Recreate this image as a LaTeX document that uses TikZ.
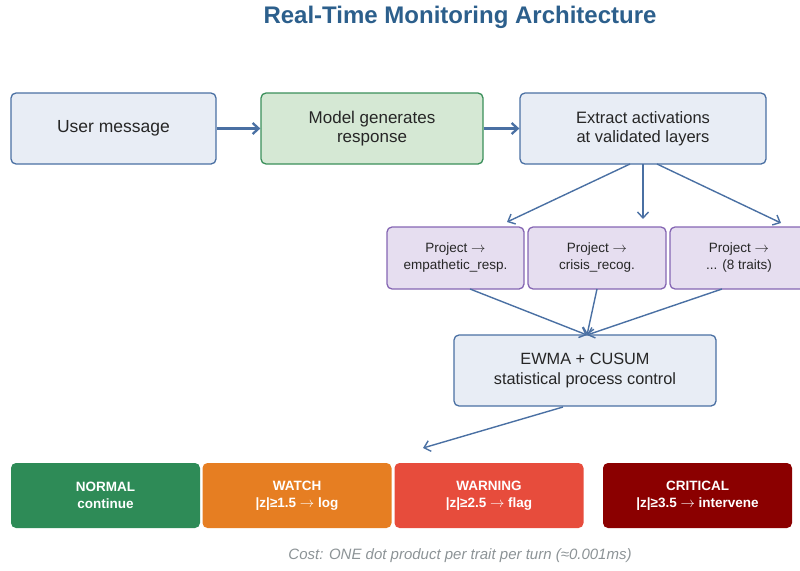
\documentclass[tikz,border=0pt]{standalone}
\usepackage{fontspec}
\setmainfont{Liberation Sans}
\usetikzlibrary{arrows.meta}
\definecolor{stepfill}{HTML}{E8EDF5}
\definecolor{stepline}{HTML}{4A70A3}
\definecolor{genfill}{HTML}{D5E8D4}
\definecolor{genline}{HTML}{3A8F5A}
\definecolor{projfill}{HTML}{E6DEF0}
\definecolor{projline}{HTML}{8566B3}
\definecolor{titleblue}{HTML}{2C5F8C}
\definecolor{lvnormal}{HTML}{2E8B57}
\definecolor{lvwatch}{HTML}{E67E22}
\definecolor{lvwarning}{HTML}{E74C3C}
\definecolor{lvcritical}{HTML}{8B0000}
\definecolor{captiongray}{HTML}{8C9396}
\newcommand{\rarr}{\(\rightarrow\)}
\tikzset{
  box/.style={draw, line width=1.3pt, rounded corners=5pt, align=center, inner sep=0pt},
  stepbox/.style={box, draw=stepline, fill=stepfill, text=black!85},
  genbox/.style={box, draw=genline, fill=genfill, text=black!85},
  projbox/.style={box, draw=projline, fill=projfill, text=black!85, font=\fontsize{13.5}{17}\selectfont},
  levelbox/.style={rounded corners=5pt, align=center, inner sep=0pt, text=white,
    font=\bfseries\fontsize{13.5}{17}\selectfont, minimum width=189pt, minimum height=65pt},
  mainarrow/.style={-{Straight Barb[length=6pt,width=11pt]}, line width=2.3pt, draw=stepline},
  thinarrow/.style={-{Straight Barb[length=6pt,width=11pt]}, line width=1.4pt, draw=stepline},
}
\begin{document}
\begin{tikzpicture}[x=1pt,y=-1pt]
\useasboundingbox (0,0) rectangle (800,570);

\node[font=\bfseries\fontsize{24}{28}\selectfont, text=titleblue] (title) at (460,17) {Real-Time Monitoring Architecture};

% top row
\node[stepbox, minimum width=205pt, minimum height=71pt, font=\fontsize{17.5}{20}\selectfont] (user) at (113.5,128.5) {User message};
\node[genbox, minimum width=222pt, minimum height=71pt, font=\fontsize{17}{19.5}\selectfont] (model) at (372,128.5) {Model generates\\response};
\node[stepbox, minimum width=246pt, minimum height=71pt, font=\fontsize{16.5}{19.5}\selectfont] (extract) at (643,128.5) {Extract activations\\at validated layers};

\draw[mainarrow] (user.east) -- (model.west);
\draw[mainarrow] (model.east) -- (extract.west);

% per-trait projections
\node[projbox, minimum width=137pt, minimum height=62pt] (p1) at (455.5,258) {Project \rarr\\empathetic\_resp.};
\node[projbox, minimum width=138pt, minimum height=62pt] (p2) at (597,258) {Project \rarr\\crisis\_recog.};
\node[projbox, minimum width=138pt, minimum height=62pt] (p3) at (739,258) {Project \rarr\\... (8 traits)};

\coordinate (e1) at (630,164);
\coordinate (e2) at (643,164);
\coordinate (e3) at (657,164);
\coordinate (t1) at (507,222);
\coordinate (t2) at (643,219);
\coordinate (t3) at (781,223);
\draw[thinarrow] (e1) -- (t1);
\draw[thinarrow] (e2) -- (t2);
\draw[thinarrow] (e3) -- (t3);

% statistical process control
\node[stepbox, minimum width=262pt, minimum height=71pt, font=\fontsize{16.3}{19.5}\selectfont] (spc) at (585,370.5) {EWMA + CUSUM\\statistical process control};

\coordinate (s1) at (470,289);
\coordinate (s2) at (597,289);
\coordinate (s3) at (722,289);
\coordinate (sin) at (587,335);
\draw[thinarrow] (s1) -- (sin);
\draw[thinarrow] (s2) -- (sin);
\draw[thinarrow] (s3) -- (sin);

\coordinate (sout) at (563,407);
\coordinate (lvin) at (423,448);
\draw[thinarrow] (sout) -- (lvin);

% alert levels
\node[levelbox, fill=lvnormal] (normal) at (105.5,495.5) {NORMAL\\continue};
\node[levelbox, fill=lvwatch] (watch) at (297,495.5) {WATCH\\|z|≥1.5 \rarr\ log};
\node[levelbox, fill=lvwarning] (warning) at (489,495.5) {WARNING\\|z|≥2.5 \rarr\ flag};
\node[levelbox, fill=lvcritical] (critical) at (697.5,495.5) {CRITICAL\\|z|≥3.5 \rarr\ intervene};

\node[font=\itshape\fontsize{15}{18}\selectfont, text=captiongray] (cost) at (460,556) {Cost: ONE dot product per trait per turn (≈0.001ms)};
\end{tikzpicture}
\end{document}
